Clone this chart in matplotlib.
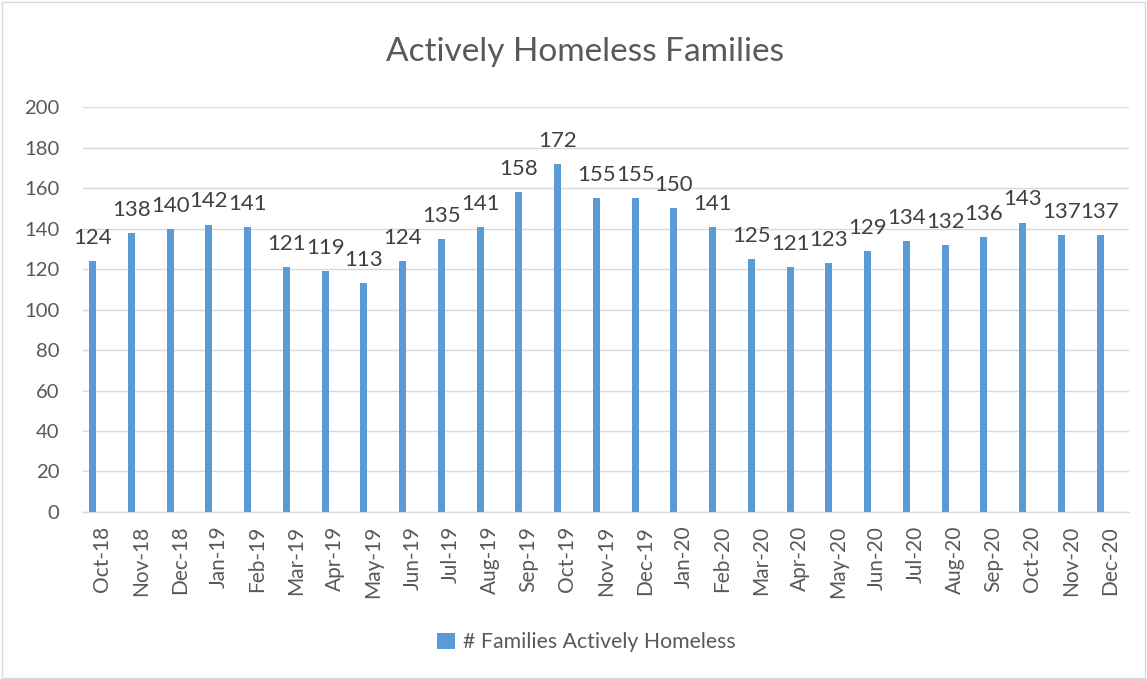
import matplotlib
matplotlib.use("Agg")
import matplotlib.pyplot as plt
import numpy as np

months = ["Oct-18","Nov-18","Dec-18","Jan-19","Feb-19","Mar-19","Apr-19","May-19","Jun-19",
          "Jul-19","Aug-19","Sep-19","Oct-19","Nov-19","Dec-19","Jan-20","Feb-20","Mar-20",
          "Apr-20","May-20","Jun-20","Jul-20","Aug-20","Sep-20","Oct-20","Nov-20","Dec-20"]
families = [124,138,140,142,141,121,119,113,124,135,141,158,172,155,155,150,141,125,
            121,123,129,134,132,136,143,137,137]

plt.rcParams['font.family'] = ['Lato', 'DejaVu Sans']
txt = '#595959'

fig = plt.figure(figsize=(11.47, 6.79), dpi=100)
fig.patches.append(plt.Rectangle((0.002, 0.002), 0.996, 0.995, transform=fig.transFigure,
                                 fill=False, edgecolor='#d9d9d9', linewidth=1))
ax = fig.add_axes([0.0724, 0.246, 0.912, 0.596])
x = np.arange(len(months))
bars = ax.bar(x - 0.25, families, width=0.18, color='#5B9BD5', zorder=3,
              label='# Families Actively Homeless')
for xi, v in zip(x, families):
    ax.text(xi - 0.25, v + 6.5, str(v), ha='center', va='bottom', fontsize=16, color='#404040')

ax.set_xlim(-0.5, len(months) - 0.5)
ax.set_ylim(0, 200)
ax.set_yticks(range(0, 201, 20))
ax.yaxis.grid(True, color='#d9d9d9', linewidth=1, zorder=0)
ax.set_xticks(x)
ax.set_xticklabels(months, rotation=90, fontsize=15, color=txt)
ax.tick_params(axis='y', labelsize=14.6, labelcolor=txt, length=0, pad=17)
ax.tick_params(axis='x', length=0, pad=10)
for s in ['top', 'right', 'left']:
    ax.spines[s].set_visible(False)
ax.spines['bottom'].set_color('#d9d9d9')
ax.spines['bottom'].set_linewidth(1)

fig.text(0.51, 0.923, 'Actively Homeless Families', ha='center', va='center', fontsize=24, color=txt)
leg = fig.legend(handles=[bars], labels=['# Families Actively Homeless'], loc='center',
                 bbox_to_anchor=(0.511, 0.054), frameon=False, fontsize=15.3,
                 handlelength=0.85, handleheight=0.85, handletextpad=0.35)
for t in leg.get_texts():
    t.set_color(txt)

fig.savefig('out.png', dpi=100)
